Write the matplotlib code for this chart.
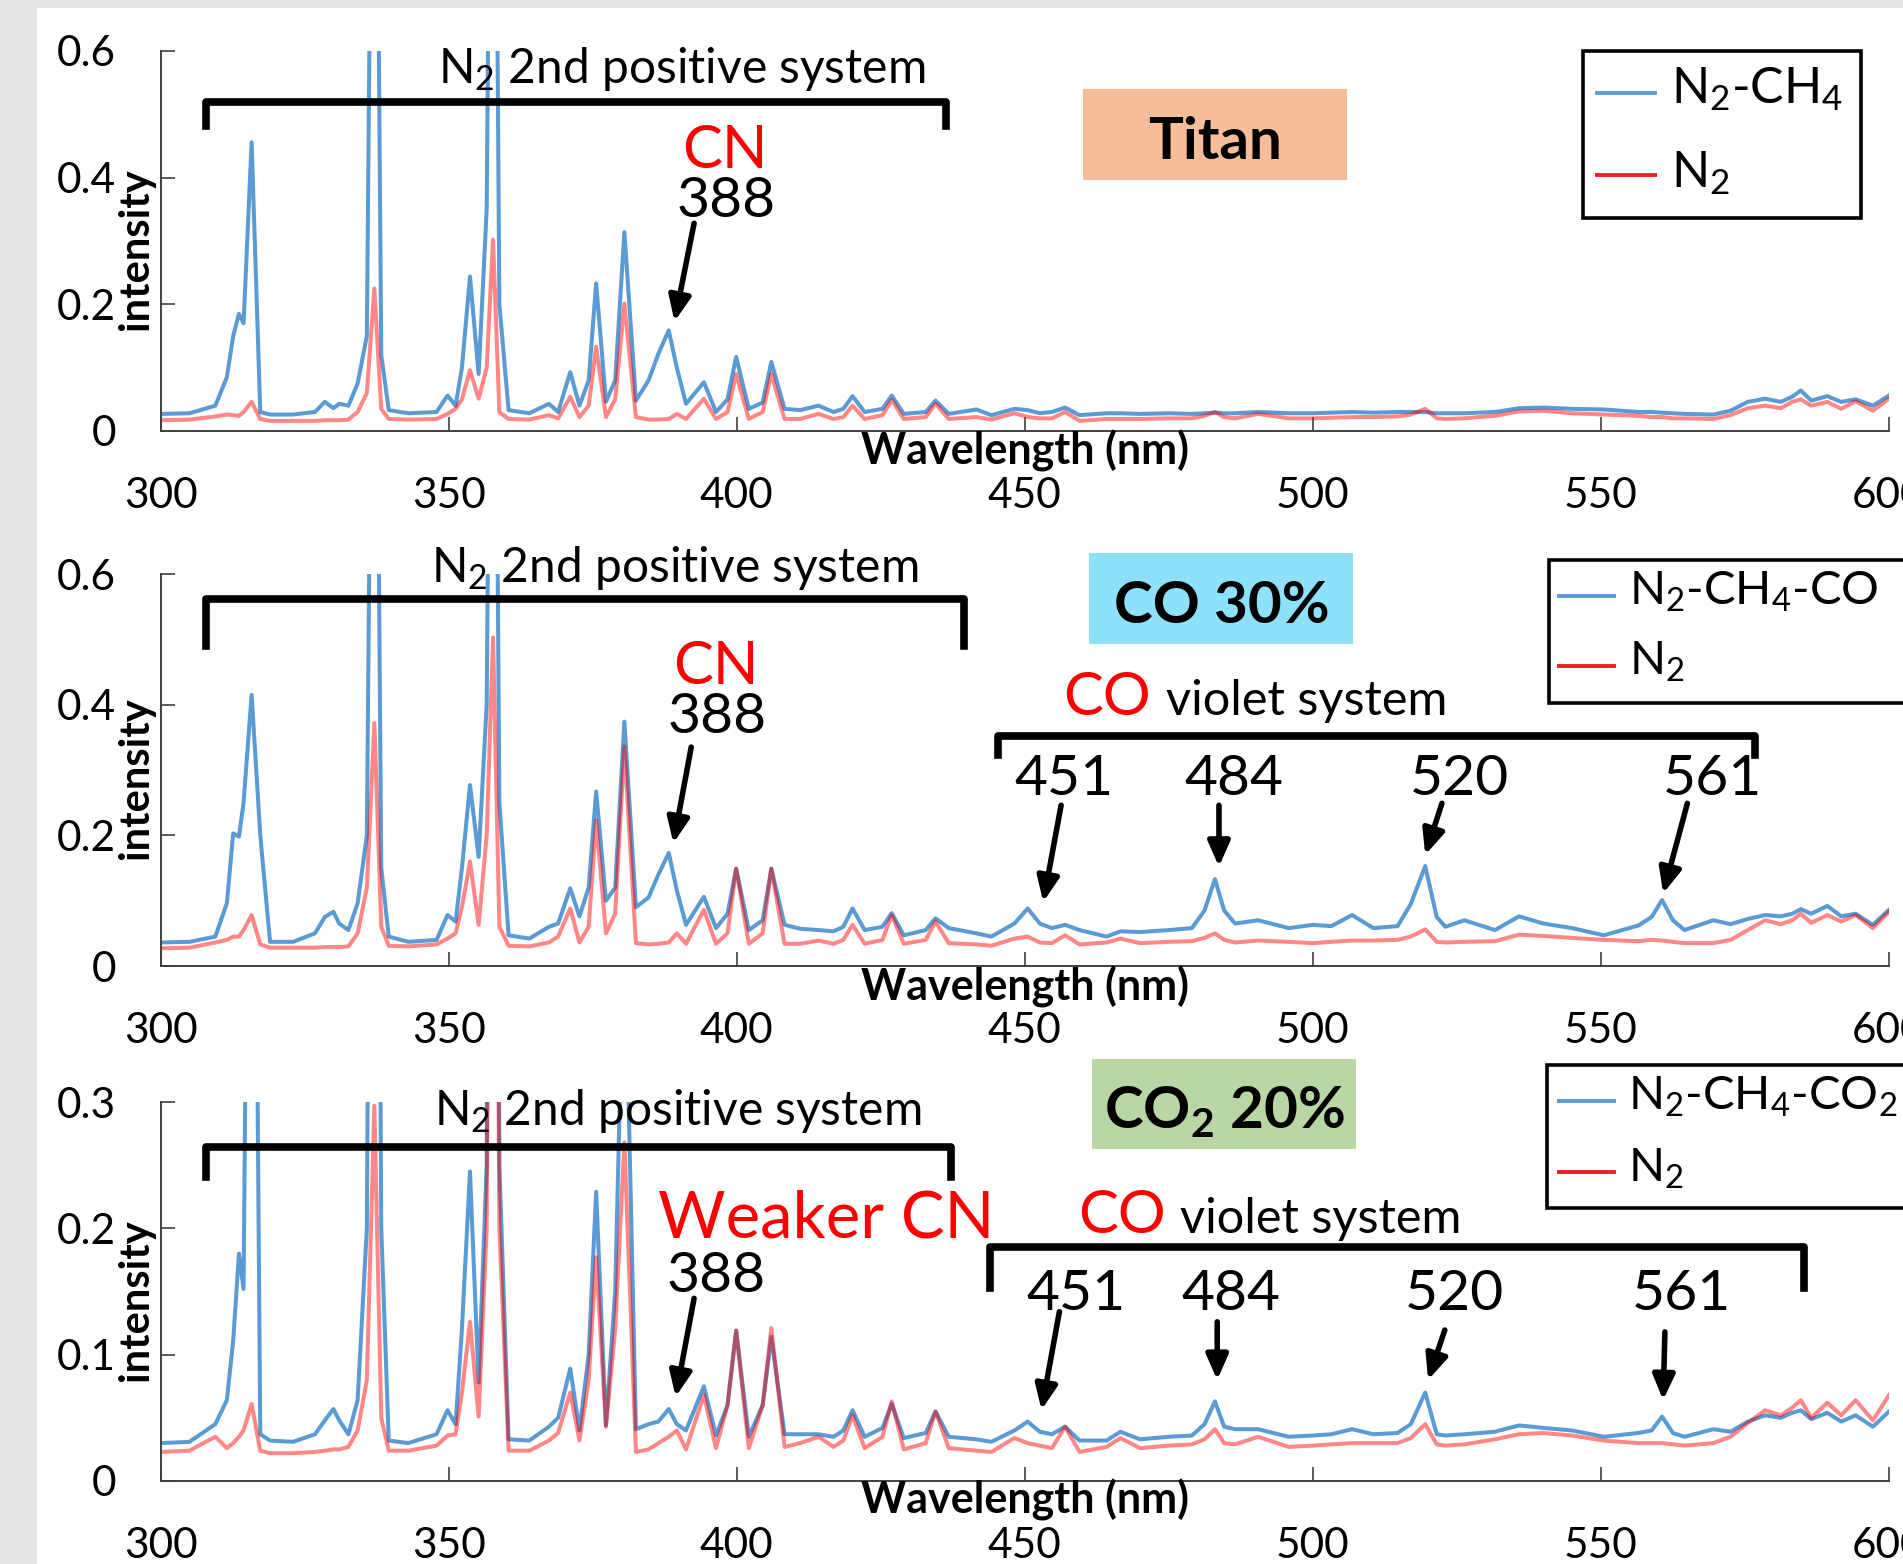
import matplotlib.pyplot as plt
from matplotlib.lines import Line2D
from matplotlib.patches import Rectangle

plt.rcParams['font.family'] = ['Lato', 'DejaVu Sans']
plt.rcParams['mathtext.fontset'] = 'custom'
plt.rcParams['mathtext.rm'] = 'Lato'
plt.rcParams['mathtext.it'] = 'Lato:italic'
plt.rcParams['mathtext.bf'] = 'Lato:bold'

# reference size in pixels
W = 1903
H = 1564

wavelength = [
    300, 305, 309.5, 311.5, 312.6, 313.6, 314.4, 315.8, 317.3, 319,
    323, 326.8, 328.5, 330, 331, 332.6, 334.2, 335.8, 337.1, 338.3,
    339.6, 343, 347.9, 349.8, 351.2, 352.3, 353.7, 355.2, 356.6, 357.7,
    358.8, 360.4, 364, 367.4, 369, 371.1, 372.7, 374.3, 375.6, 377.3,
    378.9, 380.5, 382.5, 384.7, 386.4, 388.2, 389.6, 391.2, 394.3, 396.4,
    398.4, 399.9, 402.1, 404.5, 406.0, 408.3, 411, 414.2, 416.8, 418.5,
    420.1, 422.2, 425.3, 426.9, 429.0, 432.8, 434.5, 436.8, 441.6, 444.2,
    448.2, 450.5, 452.6, 454.7, 457.0, 459.5, 464.2, 466.6, 470, 475,
    479.0, 481.2, 483.0, 484.6, 486.5, 490.5, 495.8, 500, 503.2, 506.8,
    510.5, 514.7, 517.0, 519.5, 521.5, 523, 526.3, 531.6, 535.8, 540,
    545, 550.5, 556.5, 558.8, 560.6, 562.5, 564.5, 569.5, 572.5, 575.5,
    578.5, 581.2, 583.2, 584.7, 586.5, 589.3, 591.7, 594.2, 597.2, 600,
]

# titan panel: N2-CH4 mixture and pure N2
titan_mix = [
    0.027, 0.028, 0.040, 0.085, 0.150, 0.185, 0.170, 0.456, 0.030, 0.026,
    0.026, 0.030, 0.046, 0.036, 0.043, 0.040, 0.075, 0.150, 1.500, 0.120,
    0.033, 0.028, 0.030, 0.056, 0.040, 0.100, 0.244, 0.090, 0.350, 1.600,
    0.200, 0.033, 0.028, 0.043, 0.030, 0.093, 0.040, 0.080, 0.233, 0.046,
    0.080, 0.314, 0.048, 0.080, 0.122, 0.159, 0.100, 0.043, 0.077, 0.030,
    0.050, 0.117, 0.035, 0.045, 0.109, 0.035, 0.033, 0.040, 0.030, 0.035,
    0.055, 0.030, 0.035, 0.056, 0.027, 0.030, 0.048, 0.027, 0.034, 0.025,
    0.035, 0.033, 0.028, 0.030, 0.037, 0.025, 0.028, 0.028, 0.027, 0.028,
    0.027, 0.028, 0.029, 0.028, 0.028, 0.030, 0.028, 0.028, 0.029, 0.030,
    0.029, 0.030, 0.030, 0.030, 0.028, 0.028, 0.028, 0.030, 0.036, 0.037,
    0.035, 0.034, 0.030, 0.030, 0.029, 0.028, 0.027, 0.026, 0.032, 0.046,
    0.051, 0.046, 0.054, 0.064, 0.048, 0.055, 0.046, 0.050, 0.040, 0.056,
]
titan_n2 = [
    0.017, 0.018, 0.023, 0.026, 0.025, 0.024, 0.030, 0.046, 0.019, 0.016,
    0.016, 0.016, 0.017, 0.017, 0.017, 0.018, 0.030, 0.060, 0.225, 0.035,
    0.019, 0.018, 0.019, 0.027, 0.035, 0.050, 0.096, 0.051, 0.100, 0.302,
    0.030, 0.019, 0.018, 0.025, 0.020, 0.054, 0.022, 0.040, 0.133, 0.022,
    0.050, 0.201, 0.022, 0.018, 0.018, 0.019, 0.027, 0.019, 0.051, 0.019,
    0.030, 0.090, 0.019, 0.030, 0.090, 0.019, 0.019, 0.027, 0.019, 0.022,
    0.040, 0.019, 0.025, 0.049, 0.019, 0.022, 0.043, 0.019, 0.022, 0.018,
    0.028, 0.022, 0.020, 0.020, 0.030, 0.016, 0.019, 0.019, 0.019, 0.020,
    0.020, 0.024, 0.030, 0.022, 0.020, 0.027, 0.020, 0.020, 0.021, 0.022,
    0.022, 0.023, 0.026, 0.035, 0.020, 0.019, 0.020, 0.024, 0.031, 0.032,
    0.028, 0.026, 0.024, 0.022, 0.022, 0.020, 0.020, 0.019, 0.025, 0.036,
    0.040, 0.036, 0.046, 0.050, 0.040, 0.046, 0.035, 0.047, 0.032, 0.051,
]

# CO 30% panel: N2-CH4-CO mixture and pure N2
co_mix = [
    0.036, 0.037, 0.045, 0.096, 0.203, 0.198, 0.250, 0.415, 0.200, 0.037,
    0.037, 0.050, 0.075, 0.083, 0.065, 0.055, 0.096, 0.200, 1.500, 0.150,
    0.045, 0.037, 0.040, 0.078, 0.068, 0.150, 0.277, 0.167, 0.400, 1.600,
    0.250, 0.047, 0.042, 0.060, 0.065, 0.119, 0.076, 0.120, 0.267, 0.100,
    0.120, 0.374, 0.090, 0.105, 0.140, 0.173, 0.116, 0.063, 0.106, 0.058,
    0.080, 0.149, 0.055, 0.070, 0.149, 0.063, 0.057, 0.055, 0.053, 0.060,
    0.088, 0.055, 0.060, 0.081, 0.047, 0.055, 0.073, 0.058, 0.050, 0.045,
    0.065, 0.088, 0.065, 0.058, 0.063, 0.055, 0.045, 0.053, 0.052, 0.055,
    0.058, 0.085, 0.133, 0.085, 0.065, 0.070, 0.058, 0.063, 0.061, 0.078,
    0.058, 0.061, 0.095, 0.153, 0.075, 0.060, 0.070, 0.055, 0.076, 0.065,
    0.058, 0.047, 0.062, 0.075, 0.101, 0.070, 0.055, 0.070, 0.064, 0.072,
    0.078, 0.076, 0.080, 0.087, 0.080, 0.092, 0.076, 0.080, 0.063, 0.086,
]
co_n2 = [
    0.027, 0.028, 0.036, 0.040, 0.045, 0.045, 0.055, 0.078, 0.033, 0.028,
    0.028, 0.028, 0.029, 0.029, 0.029, 0.030, 0.050, 0.120, 0.372, 0.060,
    0.031, 0.030, 0.033, 0.042, 0.050, 0.090, 0.160, 0.063, 0.200, 0.503,
    0.060, 0.031, 0.030, 0.036, 0.045, 0.088, 0.036, 0.060, 0.223, 0.050,
    0.080, 0.336, 0.035, 0.033, 0.034, 0.036, 0.050, 0.034, 0.086, 0.034,
    0.050, 0.149, 0.034, 0.050, 0.149, 0.034, 0.034, 0.039, 0.034, 0.040,
    0.063, 0.034, 0.040, 0.078, 0.034, 0.040, 0.068, 0.035, 0.033, 0.031,
    0.042, 0.045, 0.036, 0.035, 0.047, 0.033, 0.036, 0.042, 0.035, 0.037,
    0.038, 0.043, 0.050, 0.040, 0.036, 0.039, 0.037, 0.035, 0.037, 0.039,
    0.039, 0.040, 0.045, 0.056, 0.037, 0.036, 0.037, 0.038, 0.048, 0.046,
    0.043, 0.040, 0.038, 0.040, 0.039, 0.037, 0.035, 0.035, 0.040, 0.055,
    0.070, 0.064, 0.070, 0.080, 0.066, 0.078, 0.068, 0.078, 0.058, 0.083,
]

# CO2 20% panel: N2-CH4-CO2 mixture and pure N2
co2_mix = [
    0.030, 0.031, 0.045, 0.064, 0.111, 0.180, 0.152, 0.900, 0.037, 0.032,
    0.031, 0.037, 0.048, 0.057, 0.048, 0.037, 0.064, 0.200, 1.200, 0.200,
    0.032, 0.030, 0.037, 0.056, 0.045, 0.120, 0.245, 0.078, 0.250, 1.500,
    0.250, 0.033, 0.032, 0.043, 0.050, 0.089, 0.040, 0.100, 0.229, 0.044,
    0.150, 0.450, 0.041, 0.045, 0.047, 0.057, 0.045, 0.040, 0.075, 0.036,
    0.060, 0.119, 0.035, 0.060, 0.114, 0.037, 0.037, 0.037, 0.035, 0.040,
    0.056, 0.035, 0.042, 0.061, 0.034, 0.038, 0.055, 0.035, 0.033, 0.031,
    0.040, 0.047, 0.039, 0.037, 0.043, 0.032, 0.032, 0.039, 0.033, 0.035,
    0.036, 0.045, 0.063, 0.043, 0.041, 0.041, 0.035, 0.036, 0.037, 0.041,
    0.037, 0.038, 0.045, 0.070, 0.037, 0.036, 0.037, 0.039, 0.044, 0.042,
    0.040, 0.035, 0.038, 0.040, 0.051, 0.038, 0.035, 0.041, 0.039, 0.047,
    0.052, 0.050, 0.054, 0.056, 0.049, 0.054, 0.047, 0.052, 0.043, 0.055,
]
co2_n2 = [
    0.023, 0.024, 0.035, 0.026, 0.030, 0.035, 0.040, 0.061, 0.024, 0.022,
    0.022, 0.023, 0.024, 0.025, 0.025, 0.027, 0.040, 0.080, 0.297, 0.050,
    0.024, 0.024, 0.028, 0.036, 0.037, 0.070, 0.126, 0.051, 0.200, 1.000,
    0.200, 0.024, 0.024, 0.032, 0.038, 0.070, 0.032, 0.080, 0.177, 0.043,
    0.120, 0.268, 0.023, 0.025, 0.030, 0.035, 0.040, 0.025, 0.068, 0.026,
    0.060, 0.119, 0.026, 0.060, 0.121, 0.027, 0.030, 0.035, 0.027, 0.032,
    0.052, 0.026, 0.035, 0.063, 0.025, 0.030, 0.055, 0.026, 0.024, 0.023,
    0.034, 0.030, 0.028, 0.026, 0.043, 0.023, 0.027, 0.034, 0.026, 0.028,
    0.029, 0.033, 0.041, 0.030, 0.029, 0.035, 0.027, 0.028, 0.029, 0.030,
    0.030, 0.030, 0.034, 0.045, 0.029, 0.028, 0.029, 0.033, 0.037, 0.038,
    0.036, 0.032, 0.030, 0.030, 0.030, 0.029, 0.028, 0.030, 0.035, 0.046,
    0.056, 0.052, 0.058, 0.064, 0.050, 0.062, 0.052, 0.064, 0.048, 0.068,
]

mix_labels = [r'N$_2$-CH$_4$', r'N$_2$-CH$_4$-CO', r'N$_2$-CH$_4$-CO$_2$']
n2_label = r'N$_2$'
panel_names = ['Titan', 'CO 30%', r'CO$_\mathbf{2}$ 20%']
panel_colors = ['#F5BE98', '#8EE1FB', '#B8D7A4']
x_ticks = [300, 350, 400, 450, 500, 550, 600]
co_peaks = ['451', '484', '520', '561']

BLUE = '#5B9BD5'
AXIS = '#404040'

fig = plt.figure(figsize=(W / 100, H / 100), dpi=100)
fig.patch.set_facecolor('#E6E6E6')
# white page, the grey shows only at the top and left edges
fig.add_artist(Rectangle((37 / W, 0), 1, 1 - 8 / H, transform=fig.transFigure,
                         fc='white', ec='none', zorder=0))


def fx(x):
    return x / W


def fy(y):
    return 1 - y / H


def make_axes(top, bottom, ymax, yticks, ylabels, mix, n2):
    ax = fig.add_axes([fx(160.6), fy(bottom), (1889 - 160.6) / W, (bottom - top) / H])
    ax.patch.set_visible(False)
    ax.plot(wavelength, mix, color=BLUE, lw=2.9)
    ax.plot(wavelength, n2, color='red', alpha=0.47, lw=2.9)
    ax.set_xlim(300, 600)
    ax.set_ylim(0, ymax)
    ax.set_xticks(x_ticks)
    ax.set_yticks(yticks)
    ax.set_yticklabels(ylabels)
    for side in ['top', 'right']:
        ax.spines[side].set_visible(False)
    for side in ['left', 'bottom']:
        ax.spines[side].set_color(AXIS)
        ax.spines[side].set_linewidth(1.4)
    ax.tick_params(direction='in', length=10, width=1.2, color=AXIS, labelsize=30.5)
    ax.tick_params(axis='y', pad=32)
    ax.tick_params(axis='x', pad=33)
    ax.text(0.5, -0.087, 'Wavelength (nm)', transform=ax.transAxes, ha='center',
            va='baseline', fontsize=31, fontweight='bold')
    ax.text(-0.014, 0.478, 'intensity', transform=ax.transAxes, rotation=90,
            ha='center', va='center', fontsize=30, fontweight='bold')
    return ax


def bracket(ax, x0, x1, y_top, y_leg):
    ax.plot([x0, x0, x1, x1], [y_leg, y_top, y_top, y_leg], color='black', lw=5.5,
            solid_joinstyle='round', clip_on=False)


def arrow(ax, tail, tip):
    ax.annotate('', xy=tip, xytext=tail,
                arrowprops=dict(arrowstyle='-|>,head_length=0.75,head_width=0.33',
                                mutation_scale=20, lw=4, color='black',
                                shrinkA=0, shrinkB=0))


def label_box(x0, y0, x1, y1, color, text, tx, ty):
    fig.add_artist(Rectangle((fx(x0), fy(y1)), (x1 - x0) / W, (y1 - y0) / H,
                             transform=fig.transFigure, fc=color, ec='none'))
    fig.text(fx(tx), fy(ty), text, ha='center', va='baseline', fontsize=42,
             fontweight='bold')


def legend_box(x0, y0, x1, y1, line_x, rows, text_x, label, size):
    fig.add_artist(Rectangle((fx(x0), fy(y1)), (x1 - x0) / W, (y1 - y0) / H,
                             transform=fig.transFigure, fc='white', ec='black', lw=2.6))
    colors = [BLUE, '#EE1D25']
    texts = [label, n2_label]
    for (line_y, base_y), c, t in zip(rows, colors, texts):
        fig.add_artist(Line2D([fx(line_x[0]), fx(line_x[1])], [fy(line_y), fy(line_y)],
                              transform=fig.transFigure, color=c, lw=2.8))
        fig.text(fx(text_x), fy(base_y), t, ha='left', va='baseline', fontsize=size)


# ---- top panel: Titan
ax0 = make_axes(51, 431, 0.6, [0, 0.2, 0.4, 0.6], ['0', '0.2', '0.4', '0.6'],
                titan_mix, titan_n2)
ax0.text(390.5, 0.549, r'N$_2$ 2nd positive system', ha='center', va='baseline', fontsize=34.5)
bracket(ax0, 307.9, 436.3, 0.520, 0.482)
ax0.text(397.9, 0.415, 'CN', color='red', ha='center', va='baseline', fontsize=43)
ax0.text(398.2, 0.338, '388', ha='center', va='baseline', fontsize=41)
arrow(ax0, (392.6, 0.328), (389.2, 0.173))
label_box(1083, 89, 1347, 180, panel_colors[0], panel_names[0], 1215, 159)
legend_box(1583, 51, 1861, 218, (1597, 1655), [(93, 103), (175, 187)], 1671,
           mix_labels[0], 36)

# ---- middle panel: CO 30%
ax1 = make_axes(574, 966, 0.6, [0, 0.2, 0.4, 0.6], ['0', '0.2', '0.4', '0.6'],
                co_mix, co_n2)
ax1.text(389.2, 0.588, r'N$_2$ 2nd positive system', ha='center', va='baseline', fontsize=34.5)
bracket(ax1, 307.9, 439.4, 0.562, 0.490)
ax1.text(396.3, 0.432, 'CN', color='red', ha='center', va='baseline', fontsize=43)
ax1.text(396.6, 0.356, '388', ha='center', va='baseline', fontsize=41)
arrow(ax1, (392.1, 0.335), (389.0, 0.188))
ax1.text(464.2, 0.384, 'CO', color='red', ha='center', va='baseline', fontsize=43)
ax1.text(474.5, 0.384, 'violet system', ha='left', va='baseline', fontsize=35)
bracket(ax1, 445.3, 576.8, 0.352, 0.323)
for lab, x in zip(co_peaks, [456.8, 486.3, 525.5, 569.3]):
    ax1.text(x, 0.262, lab, ha='center', va='baseline', fontsize=41)
arrow(ax1, (456.3, 0.246), (453.2, 0.098))
arrow(ax1, (483.7, 0.246), (483.7, 0.152))
arrow(ax1, (522.4, 0.249), (519.5, 0.170))
arrow(ax1, (565.0, 0.249), (560.8, 0.111))
label_box(1089, 553, 1353, 644, panel_colors[1], panel_names[1], 1222, 623)
legend_box(1549, 560, 1930, 703, (1559, 1614), [(596, 605), (666, 675)], 1629,
           mix_labels[1], 34)

# ---- bottom panel: CO2 20%
ax2 = make_axes(1102, 1481, 0.3, [0, 0.1, 0.2, 0.3], ['0', '0.1', '0.2', '0.3'],
                co2_mix, co2_n2)
ax2.text(389.7, 0.282, r'N$_2$ 2nd positive system', ha='center', va='baseline', fontsize=34.5)
bracket(ax2, 307.9, 437.2, 0.264, 0.241)
ax2.text(415.5, 0.193, 'Weaker CN', color='red', ha='center', va='baseline', fontsize=47)
ax2.text(396.5, 0.150, '388', ha='center', va='baseline', fontsize=41)
arrow(ax2, (392.6, 0.1446), (389.4, 0.0667))
ax2.text(466.8, 0.1965, 'CO', color='red', ha='center', va='baseline', fontsize=43)
ax2.text(476.9, 0.1965, 'violet system', ha='left', va='baseline', fontsize=35)
bracket(ax2, 443.9, 585.3, 0.185, 0.1525)
for lab, x in zip(co_peaks, [458.8, 485.7, 524.6, 563.9]):
    ax2.text(x, 0.1354, lab, ha='center', va='baseline', fontsize=41)
arrow(ax2, (456.0, 0.134), (452.9, 0.0562))
arrow(ax2, (483.4, 0.126), (483.4, 0.080))
arrow(ax2, (522.9, 0.1195), (520.0, 0.080))
arrow(ax2, (561.1, 0.118), (560.8, 0.064))
label_box(1092, 1059, 1356, 1149, panel_colors[2], panel_names[2], 1225, 1128)
legend_box(1547, 1065, 1930, 1208, (1559, 1614), [(1101, 1110), (1172, 1182)], 1628,
           mix_labels[2], 34)

fig.savefig('out.png', dpi=100, facecolor=fig.get_facecolor())
